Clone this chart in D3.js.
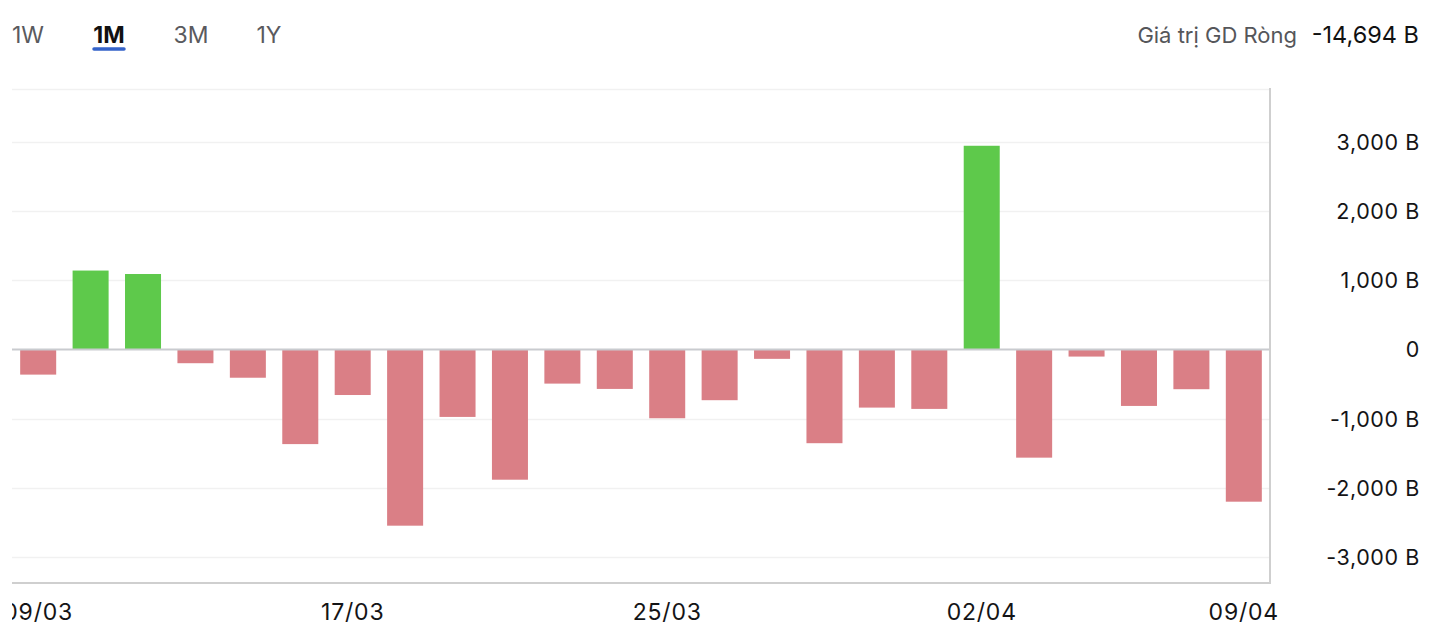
<!DOCTYPE html>
<html>
<head>
<meta charset="utf-8">
<script src="https://cdn.jsdelivr.net/npm/d3@7"></script>
<style>
  html, body { margin: 0; padding: 0; background: #fff; }
  svg { display: block; font-family: Inter, "Noto Sans", sans-serif; }
</style>
</head>
<body>
<svg id="chart" width="1432" height="632"></svg>
<script>
const dates = ["09/03","10/03","11/03","12/03","13/03","16/03","17/03","18/03","19/03","20/03",
  "23/03","24/03","25/03","26/03","27/03","30/03","31/03","01/04","02/04","03/04",
  "06/04","07/04","08/04","09/04"];
const netValues = [-365, 1140, 1090, -200, -410, -1370, -660, -2550, -977, -1885,
  -495, -572, -996, -735, -137, -1357, -842, -861, 2945, -1566,
  -104, -818, -576, -2203];
const xTickLabels = ["09/03","17/03","25/03","02/04","09/04"];
const yTickValues = [3000, 2000, 1000, 0, -1000, -2000, -3000];
const yDomain = [-3379, 3766];
const tabs = ["1W","1M","3M","1Y"];
const activeTab = "1M";
const summaryLabel = "Giá trị GD Ròng";
const summaryValue = -14694;

const svg = d3.select("#chart");
const plotLeft = 12, plotRight = 1270, plotTop = 89, plotBottom = 583;

const x = d3.scaleBand().domain(dates).range([plotLeft, plotRight]).paddingInner(0.313).paddingOuter(0.156);
const y = d3.scaleLinear().domain(yDomain).range([plotBottom, plotTop]);

const fmt = d3.format(",");
const yLabel = v => v === 0 ? "0" : fmt(v).replace("−", "-") + " B";

// gridlines
svg.append("g").selectAll("line").data(yTickValues.filter(v => v !== 0).concat([yDomain[1]]))
  .join("line")
  .attr("x1", plotLeft).attr("x2", plotRight)
  .attr("y1", d => Math.round(y(d)) + 0.5).attr("y2", d => Math.round(y(d)) + 0.5)
  .attr("stroke", "#f1f1f1").attr("stroke-width", 1.5);

// bars
svg.append("g").selectAll("rect").data(dates)
  .join("rect")
  .attr("x", d => x(d))
  .attr("width", x.bandwidth())
  .attr("y", (d, i) => Math.min(y(netValues[i]), y(0)))
  .attr("height", (d, i) => Math.abs(y(netValues[i]) - y(0)))
  .attr("fill", (d, i) => netValues[i] >= 0 ? "#5ec94b" : "#da7f86");

// zero line
svg.append("line")
  .attr("x1", plotLeft).attr("x2", plotRight)
  .attr("y1", y(0)).attr("y2", y(0))
  .attr("stroke", "#c9cbcf").attr("stroke-width", 2);

// bottom axis line and right axis line
svg.append("line").attr("x1", plotLeft).attr("x2", plotRight + 1).attr("y1", plotBottom).attr("y2", plotBottom)
  .attr("stroke", "#cfcfcf").attr("stroke-width", 2);
svg.append("line").attr("x1", plotRight).attr("x2", plotRight).attr("y1", plotTop - 1).attr("y2", plotBottom)
  .attr("stroke", "#cfcfcf").attr("stroke-width", 2);

// y axis (right)
const yAxis = d3.axisRight(y).tickValues(yTickValues).tickSize(0).tickPadding(0).tickFormat(yLabel);
const gy = svg.append("g").attr("transform", `translate(1420,0)`).call(yAxis);
gy.select(".domain").remove();
gy.selectAll("text")
  .attr("text-anchor", "end")
  .attr("font-family", "Inter, 'Noto Sans', sans-serif")
  .attr("font-size", 21.5)
  .attr("letter-spacing", 0.6)
  .attr("fill", "#141416")
  .attr("dy", "0.35em");

// x axis
svg.append("defs").append("clipPath").attr("id", "xclip")
  .append("rect").attr("x", 12).attr("y", 0).attr("width", 1420).attr("height", 49);
const xAxis = d3.axisBottom(x).tickValues(xTickLabels).tickSize(0).tickPadding(0);
const gx = svg.append("g").attr("transform", `translate(0,${plotBottom})`).call(xAxis);
gx.select(".domain").remove();
gx.selectAll("text")
  .attr("font-family", "Inter, 'Noto Sans', sans-serif")
  .attr("font-size", 23)
  .attr("letter-spacing", 0.8)
  .attr("fill", "#141416")
  .attr("y", 37)
  .attr("dy", 0);
gx.attr("clip-path", "url(#xclip)");

// tabs
const tabX = [28, 109, 191, 269];
const tg = svg.append("g");
tabs.forEach((t, i) => {
  tg.append("text")
    .attr("x", tabX[i]).attr("y", 43)
    .attr("text-anchor", "middle")
    .attr("font-size", 23)
    .attr("font-weight", t === activeTab ? 700 : 400)
    .attr("fill", t === activeTab ? "#111" : "#5a5a5e")
    .text(t);
  if (t === activeTab) {
    tg.append("line")
      .attr("x1", tabX[i] - 15).attr("x2", tabX[i] + 15)
      .attr("y1", 49).attr("y2", 49)
      .attr("stroke", "#3563c9").attr("stroke-width", 3.5).attr("stroke-linecap", "round");
  }
});

// summary
svg.append("text").attr("x", 1297).attr("y", 43).attr("text-anchor", "end")
  .attr("font-size", 22).attr("fill", "#55565a").text(summaryLabel);
svg.append("text").attr("x", 1419).attr("y", 43).attr("text-anchor", "end")
  .attr("font-size", 23.5).attr("fill", "#111").text(fmt(summaryValue).replace("−", "-") + " B");
</script>
</body>
</html>
